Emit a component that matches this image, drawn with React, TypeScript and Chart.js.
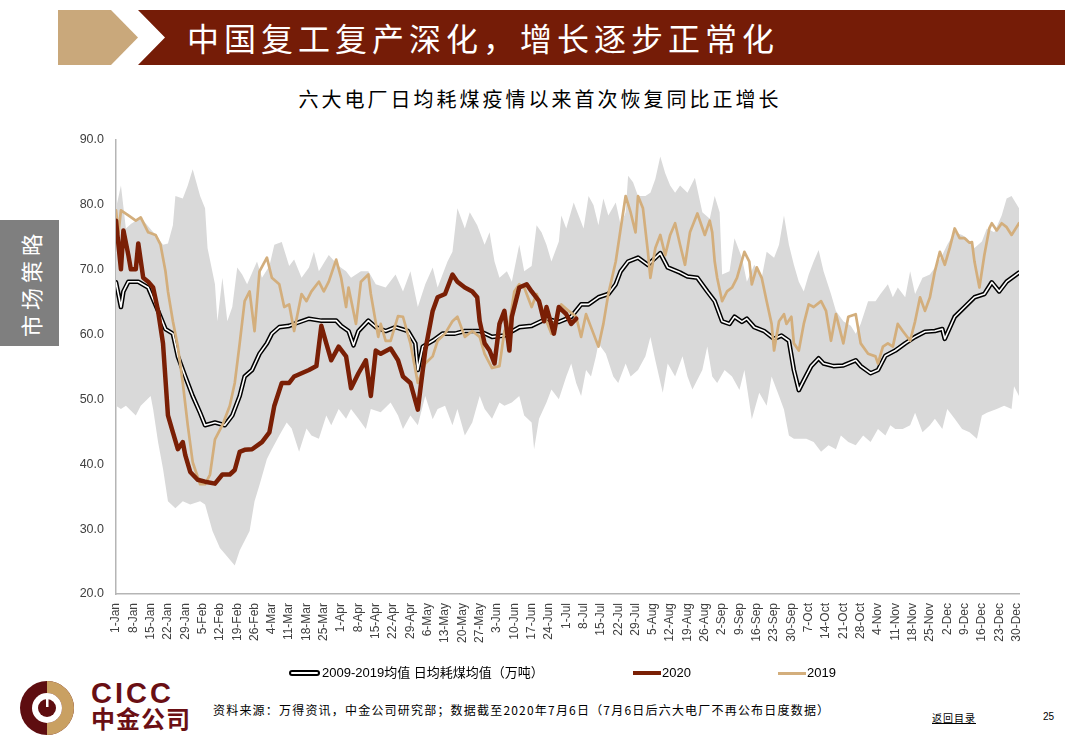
import React, { useEffect, useRef } from "react";
import { Chart, registerables } from "chart.js";

Chart.register(...registerables);

// ---- x axis (day of year, leap year 2020) ----
const TICK_LABELS = [
  "1-Jan", "8-Jan", "15-Jan", "22-Jan", "29-Jan", "5-Feb", "12-Feb", "19-Feb", "26-Feb",
  "4-Mar", "11-Mar", "18-Mar", "25-Mar", "1-Apr", "8-Apr", "15-Apr", "22-Apr", "29-Apr",
  "6-May", "13-May", "20-May", "27-May", "3-Jun", "10-Jun", "17-Jun", "24-Jun", "1-Jul",
  "8-Jul", "15-Jul", "22-Jul", "29-Jul", "5-Aug", "12-Aug", "19-Aug", "26-Aug", "2-Sep",
  "9-Sep", "16-Sep", "23-Sep", "30-Sep", "7-Oct", "14-Oct", "21-Oct", "28-Oct", "4-Nov",
  "11-Nov", "18-Nov", "25-Nov", "2-Dec", "9-Dec", "16-Dec", "23-Dec", "30-Dec",
];
const Y_MIN = 20;
const Y_MAX = 90;

// ---- 2009-2019 range (upper edge) ----
const MAX_DAYS = [0, 2, 4, 6, 10, 16, 19, 21, 23, 24, 27, 29, 31, 34, 36, 37, 40, 41, 43, 45, 47, 49, 51, 53, 57, 59, 62, 64, 67, 70, 72, 75, 78, 80, 82, 86, 90, 93, 95, 99, 102, 105, 109, 113, 116, 119, 122, 125, 128, 130, 134, 136, 138, 141, 143, 146, 149, 151, 153, 155, 158, 160, 163, 165, 168, 170, 172, 174, 176, 179, 180, 182, 185, 187, 189, 191, 193, 195, 197, 199, 202, 204, 206, 207, 209, 211, 214, 216, 218, 220, 222, 224, 226, 228, 231, 234, 237, 240, 242, 244, 245, 248, 250, 253, 255, 258, 261, 263, 266, 268, 270, 272, 274, 276, 278, 280, 282, 284, 286, 289, 291, 294, 297, 299, 301, 304, 307, 309, 312, 314, 316, 319, 321, 323, 326, 329, 331, 334, 336, 339, 342, 344, 347, 350, 352, 355, 358, 360, 362, 365];
const MAX_VALS = [79.4, 82.9, 76.3, 77.0, 78.0, 75.3, 73.8, 74.0, 76.8, 81.3, 80.9, 82.9, 85.4, 81.3, 79.4, 73.3, 67.7, 62.0, 68.7, 62.0, 64.2, 70.3, 69.2, 67.7, 71.2, 68.7, 70.5, 73.8, 74.2, 70.5, 71.5, 68.7, 70.3, 72.7, 69.7, 72.2, 70.5, 69.7, 68.7, 69.7, 69.7, 67.7, 67.2, 69.2, 66.6, 69.7, 64.2, 67.7, 70.3, 67.2, 71.2, 72.7, 79.4, 76.3, 78.8, 76.8, 73.8, 75.7, 71.2, 68.7, 69.7, 68.1, 73.8, 69.7, 70.5, 76.8, 75.7, 73.8, 71.2, 74.3, 78.3, 76.3, 80.3, 78.3, 76.3, 81.3, 79.9, 76.8, 80.9, 78.3, 80.3, 76.8, 78.8, 84.4, 83.4, 81.3, 81.3, 81.8, 83.9, 87.4, 84.8, 82.9, 81.8, 82.9, 81.8, 84.1, 78.8, 77.8, 81.3, 78.8, 69.2, 69.7, 74.8, 71.8, 68.1, 70.7, 68.7, 72.7, 71.8, 73.8, 78.3, 73.8, 70.7, 68.1, 66.6, 69.2, 71.2, 73.0, 69.7, 66.2, 63.6, 62.0, 61.3, 60.1, 61.6, 65.1, 65.1, 66.2, 67.7, 65.7, 67.2, 65.7, 69.7, 66.2, 68.7, 69.2, 70.3, 72.2, 73.8, 75.7, 75.3, 74.8, 73.3, 74.3, 76.3, 75.7, 78.3, 80.9, 81.3, 79.4];

// ---- 2009-2019 range (lower edge) ----
const MIN_DAYS = [0, 2, 4, 8, 10, 14, 15, 17, 19, 21, 24, 27, 30, 34, 36, 39, 42, 44, 48, 50, 54, 56, 58, 61, 63, 66, 69, 71, 74, 77, 79, 82, 85, 87, 90, 93, 95, 98, 101, 103, 107, 111, 114, 116, 119, 122, 125, 128, 130, 133, 136, 138, 141, 144, 147, 149, 152, 155, 157, 160, 163, 165, 168, 169, 171, 174, 176, 179, 182, 184, 186, 188, 190, 192, 194, 195, 198, 201, 203, 206, 208, 211, 214, 216, 218, 221, 223, 226, 229, 231, 233, 237, 239, 241, 243, 246, 249, 252, 254, 257, 260, 263, 265, 268, 270, 272, 274, 279, 282, 285, 288, 291, 293, 296, 299, 302, 305, 308, 311, 313, 315, 318, 321, 323, 326, 329, 331, 334, 336, 339, 342, 345, 348, 350, 352, 356, 359, 362, 363, 365];
const MIN_VALS = [49.0, 48.5, 49.0, 47.5, 49.0, 50.5, 48.5, 43.4, 39.3, 34.3, 33.2, 34.3, 33.8, 34.3, 33.8, 29.7, 27.1, 26.2, 24.4, 26.7, 29.7, 34.3, 36.8, 40.8, 42.3, 44.4, 46.4, 45.5, 41.9, 45.5, 44.4, 43.9, 47.5, 46.0, 48.5, 47.0, 48.5, 47.0, 45.4, 48.5, 48.0, 49.5, 47.5, 45.4, 47.5, 46.0, 50.5, 46.9, 48.5, 49.0, 46.0, 48.5, 44.4, 46.4, 50.5, 48.5, 47.0, 49.5, 49.0, 49.5, 50.5, 47.5, 46.4, 42.3, 47.0, 49.5, 51.5, 50.0, 53.5, 55.5, 52.5, 50.5, 54.5, 53.5, 56.6, 58.6, 57.0, 53.5, 52.5, 55.5, 53.5, 54.5, 56.6, 59.6, 56.0, 51.0, 55.5, 53.5, 56.6, 53.5, 51.5, 54.5, 58.1, 53.5, 52.5, 54.5, 53.5, 51.4, 54.5, 46.9, 51.0, 49.0, 53.5, 50.5, 48.4, 44.4, 43.9, 43.9, 43.4, 41.9, 42.9, 42.3, 44.4, 43.4, 42.9, 44.4, 43.4, 45.4, 44.4, 46.0, 45.4, 45.4, 46.0, 47.9, 44.9, 46.0, 47.0, 45.4, 48.5, 47.0, 45.4, 44.9, 43.9, 47.5, 47.9, 48.5, 49.0, 48.5, 52.0, 50.5];

// ---- 2009-2019 average ----
const AVG_DAYS = [0, 2, 3, 5, 9, 13, 17, 20, 23, 25, 28, 31, 34, 36, 40, 44, 47, 50, 52, 55, 58, 61, 63, 66, 70, 72, 78, 83, 89, 91, 94, 96, 98, 102, 105, 109, 113, 118, 121, 122, 124, 128, 132, 137, 141, 147, 152, 157, 163, 168, 174, 179, 184, 188, 191, 195, 199, 202, 204, 207, 211, 215, 220, 223, 228, 231, 235, 239, 242, 245, 248, 250, 253, 255, 258, 262, 266, 269, 272, 274, 276, 278, 281, 284, 286, 290, 294, 299, 301, 305, 308, 311, 315, 319, 323, 327, 331, 334, 335, 339, 343, 347, 351, 354, 357, 360, 365];
const AVG_VALS = [68.0, 64.2, 66.6, 68.1, 68.1, 67.2, 63.6, 60.8, 60.1, 56.6, 53.5, 50.5, 47.9, 46.0, 46.4, 46.0, 47.5, 50.5, 53.5, 54.5, 57.0, 58.6, 60.1, 61.1, 61.3, 61.6, 62.4, 62.1, 62.1, 61.3, 60.5, 58.3, 60.5, 62.1, 61.1, 60.5, 61.1, 60.5, 58.6, 54.5, 58.1, 59.0, 60.1, 60.1, 60.5, 60.5, 59.6, 59.8, 61.1, 61.3, 62.4, 61.9, 62.7, 64.6, 64.6, 65.7, 66.2, 67.7, 69.7, 71.2, 71.8, 70.7, 72.5, 70.3, 69.5, 68.9, 68.7, 66.6, 65.1, 62.0, 61.6, 62.7, 61.9, 62.4, 61.1, 60.5, 59.3, 59.8, 59.0, 54.5, 51.4, 52.9, 55.1, 56.3, 55.5, 55.1, 55.2, 56.0, 55.1, 54.0, 54.5, 56.7, 57.5, 58.6, 59.6, 60.4, 60.5, 60.8, 59.3, 62.7, 64.2, 65.7, 66.2, 68.0, 66.6, 68.1, 69.5];

// ---- 2019 ----
const Y2019_DAYS = [0, 1, 2, 5, 8, 10, 13, 16, 18, 20, 21, 23, 25, 27, 29, 31, 34, 36, 38, 40, 43, 46, 48, 50, 52, 54, 56, 58, 61, 63, 66, 68, 70, 72, 75, 77, 79, 82, 84, 86, 89, 91, 93, 94, 97, 99, 102, 103, 106, 107, 109, 111, 114, 116, 119, 122, 125, 128, 130, 133, 136, 138, 141, 144, 147, 149, 152, 155, 157, 159, 161, 163, 165, 168, 170, 172, 174, 176, 178, 180, 183, 186, 188, 190, 192, 195, 197, 199, 202, 204, 206, 208, 210, 211, 213, 215, 216, 218, 220, 222, 224, 226, 228, 230, 232, 235, 238, 240, 241, 242, 243, 245, 247, 249, 251, 254, 256, 257, 259, 261, 263, 265, 266, 268, 270, 271, 273, 274, 276, 278, 280, 282, 285, 287, 289, 291, 294, 296, 299, 301, 304, 307, 308, 310, 312, 314, 316, 318, 321, 323, 325, 327, 329, 331, 333, 335, 337, 339, 341, 343, 345, 346, 347, 349, 351, 353, 354, 356, 358, 360, 362, 365];
const Y2019_VALS = [79.1, 75.6, 79.1, 78.3, 77.5, 78.0, 75.7, 75.3, 73.8, 69.7, 66.6, 62.0, 58.1, 52.5, 46.0, 40.3, 36.9, 36.9, 38.4, 43.8, 46.0, 49.0, 52.5, 58.6, 65.1, 66.6, 60.5, 69.7, 71.8, 68.7, 67.7, 64.2, 64.6, 60.5, 66.2, 65.1, 66.6, 68.1, 66.6, 68.1, 71.5, 68.7, 64.2, 67.2, 61.6, 68.1, 69.2, 66.2, 59.6, 61.6, 59.0, 59.0, 62.8, 62.7, 58.6, 52.5, 55.5, 56.6, 59.0, 60.1, 62.0, 62.7, 59.6, 60.5, 59.6, 57.0, 54.8, 55.1, 60.5, 61.6, 66.6, 67.7, 67.2, 64.2, 66.2, 64.2, 62.0, 60.1, 62.7, 64.6, 63.6, 62.7, 59.6, 63.1, 61.1, 58.1, 61.6, 66.2, 71.2, 76.3, 81.3, 78.8, 75.7, 81.3, 79.4, 72.7, 68.7, 73.3, 75.3, 72.2, 75.3, 77.1, 73.8, 70.7, 75.7, 78.6, 75.3, 77.5, 75.7, 71.2, 68.7, 65.1, 66.6, 67.2, 68.7, 72.7, 71.2, 67.7, 70.3, 68.7, 65.1, 61.6, 57.5, 62.0, 63.1, 61.6, 62.7, 58.6, 57.5, 61.6, 64.6, 64.2, 65.1, 63.6, 59.0, 63.1, 58.6, 62.7, 63.1, 58.6, 57.0, 56.6, 55.5, 58.1, 58.6, 58.1, 61.6, 60.5, 59.0, 62.0, 65.7, 63.6, 65.7, 69.7, 72.7, 70.7, 73.3, 76.3, 74.8, 74.8, 74.1, 74.2, 71.2, 67.2, 72.2, 76.3, 77.1, 76.0, 77.1, 76.5, 75.3, 77.1];

// ---- 2020 ----
const Y2020_DAYS = [0, 2, 3, 5, 6, 8, 9, 11, 13, 15, 17, 19, 21, 23, 25, 27, 28, 30, 33, 36, 40, 43, 46, 48, 50, 52, 55, 59, 62, 64, 67, 70, 72, 75, 78, 81, 83, 85, 87, 90, 93, 95, 98, 101, 103, 105, 107, 111, 114, 116, 119, 122, 125, 128, 130, 133, 136, 138, 141, 144, 146, 147, 149, 151, 153, 155, 157, 159, 160, 163, 166, 168, 171, 173, 174, 177, 179, 182, 184, 186];
const Y2020_VALS = [77.5, 70.0, 76.0, 72.2, 70.0, 70.0, 74.0, 68.7, 68.1, 67.2, 63.6, 58.6, 47.5, 44.9, 42.3, 43.4, 41.4, 38.8, 37.6, 37.3, 37.0, 38.4, 38.4, 39.1, 41.9, 42.2, 42.3, 43.4, 44.9, 49.0, 52.5, 52.5, 53.5, 54.0, 54.5, 55.1, 61.3, 58.6, 56.0, 58.1, 56.6, 51.7, 54.0, 56.0, 50.5, 57.5, 57.0, 57.8, 56.0, 53.5, 52.5, 48.4, 57.5, 63.6, 65.7, 66.2, 69.2, 68.1, 67.2, 66.6, 65.7, 62.0, 58.6, 57.5, 55.5, 61.6, 63.6, 57.5, 62.7, 67.2, 67.7, 66.6, 65.1, 62.0, 64.2, 60.1, 64.2, 63.1, 61.6, 62.4];

const COLOR_2020 = "#7a1f05";
const COLOR_2019 = "#d3ae7c";
const COLOR_BAND = "#d9d9d9";

function toPoints(days: number[], vals: number[]) {
  return days.map((d, i) => ({ x: d, y: vals[i] }));
}

function ChartCanvas() {
  const ref = useRef<HTMLCanvasElement | null>(null);
  useEffect(() => {
    if (!ref.current) return;
    const line = {
      pointRadius: 0,
      pointHoverRadius: 0,
      tension: 0,
      borderJoinStyle: "round" as const,
      borderCapStyle: "round" as const,
    };
    const chart = new Chart(ref.current, {
      type: "line",
      data: {
        datasets: [
          {
            label: "max",
            data: toPoints(MAX_DAYS, MAX_VALS),
            borderColor: "rgba(0,0,0,0)",
            borderWidth: 0,
            backgroundColor: COLOR_BAND,
            fill: "+1",
            order: 20,
            ...line,
          },
          {
            label: "min",
            data: toPoints(MIN_DAYS, MIN_VALS),
            borderColor: "rgba(0,0,0,0)",
            borderWidth: 0,
            fill: false,
            order: 21,
            ...line,
          },
          {
            label: "avg-outer",
            data: toPoints(AVG_DAYS, AVG_VALS),
            borderColor: "#000000",
            borderWidth: 4.6,
            fill: false,
            order: 6,
            ...line,
          },
          {
            label: "avg-inner",
            data: toPoints(AVG_DAYS, AVG_VALS),
            borderColor: "#ffffff",
            borderWidth: 1.6,
            fill: false,
            order: 5,
            ...line,
          },
          {
            label: "2019",
            data: toPoints(Y2019_DAYS, Y2019_VALS),
            borderColor: COLOR_2019,
            borderWidth: 2.7,
            fill: false,
            order: 3,
            ...line,
          },
          {
            label: "2020",
            data: toPoints(Y2020_DAYS, Y2020_VALS),
            borderColor: COLOR_2020,
            borderWidth: 4.5,
            fill: false,
            order: 1,
            ...line,
          },
        ],
      },
      options: {
        animation: false,
        responsive: true,
        maintainAspectRatio: false,
        layout: { padding: { left: 0, top: 13, right: 21, bottom: 0 } },
        plugins: {
          legend: { display: false },
          tooltip: { enabled: false },
        },
        scales: {
          x: {
            type: "linear",
            min: 0,
            max: 365,
            grid: { display: false, drawTicks: false },
            border: { display: true, color: "#b5b5b5", width: 1.5 },
            afterBuildTicks: (scale: any) => {
              scale.ticks = TICK_LABELS.map((_, i) => ({ value: i * 7 }));
            },
            afterFit: (scale: any) => {
              scale.height = 76;
            },
            ticks: {
              autoSkip: false,
              minRotation: 90,
              maxRotation: 90,
              padding: 9,
              color: "#404040",
              font: { family: "'Liberation Sans Narrow', 'Liberation Sans', Arial, sans-serif", size: 12 },
              callback: (_v: any, i: number) => TICK_LABELS[i],
            },
          },
          y: {
            min: Y_MIN,
            max: Y_MAX,
            grid: { display: false, drawTicks: false },
            border: { display: true, color: "#b5b5b5", width: 1.5 },
            afterFit: (scale: any) => {
              scale.width = 56;
            },
            ticks: {
              stepSize: 10,
              padding: 12,
              color: "#404040",
              font: { family: "'Liberation Sans', Arial, sans-serif", size: 12.5 },
              callback: (v: any) => Number(v).toFixed(1),
            },
          },
        },
      } as any,
    });
    return () => chart.destroy();
  }, []);
  return <canvas ref={ref} />;
}

const CJK = "'Noto Sans CJK SC', 'Liberation Sans', sans-serif";
const LATIN_CJK = "'Liberation Sans', 'Noto Sans CJK SC', sans-serif";

export default function App() {
  return (
    <div
      style={{
        position: "absolute",
        left: 0,
        top: 0,
        width: 1080,
        height: 754,
        background: "#ffffff",
        overflow: "hidden",
      }}
    >
      {/* tan arrow */}
      <div
        style={{
          position: "absolute",
          left: 58,
          top: 10,
          width: 80,
          height: 55,
          background: "#c9a87b",
          clipPath: "polygon(0 0, 53px 0, 80px 50%, 53px 100%, 0 100%)",
        }}
      />
      {/* brown banner */}
      <div
        style={{
          position: "absolute",
          left: 138,
          top: 10,
          width: 927,
          height: 55,
          background: "#751c07",
          clipPath: "polygon(0 0, 100% 0, 100% 100%, 0 100%, 27px 50%)",
        }}
      >
        <div
          style={{
            position: "absolute",
            left: 49,
            top: 0,
            height: 55,
            lineHeight: "55px",
            color: "#ffffff",
            fontFamily: CJK,
            fontSize: 32,
            letterSpacing: 5,
            whiteSpace: "nowrap",
          }}
        >
          中国复工复产深化，增长逐步正常化
        </div>
      </div>

      {/* subtitle */}
      <div
        style={{
          position: "absolute",
          left: 0,
          top: 86,
          width: 1080,
          textAlign: "center",
          fontFamily: CJK,
          fontSize: 20,
          letterSpacing: 3,
          color: "#000000",
          lineHeight: "26px",
          whiteSpace: "nowrap",
        }}
      >
        六大电厂日均耗煤疫情以来首次恢复同比正增长
      </div>

      {/* side tab */}
      <div
        style={{
          position: "absolute",
          left: 0,
          top: 220,
          width: 59,
          height: 126,
          background: "#7f7f7f",
        }}
      >
        <div
          style={{
            position: "absolute",
            left: "50%",
            top: "50%",
            transform: "translate(-50%, -50%) rotate(-90deg)",
            color: "#ffffff",
            fontFamily: CJK,
            fontSize: 22,
            letterSpacing: 5,
            whiteSpace: "nowrap",
            lineHeight: "26px",
          }}
        >
          市场策略
        </div>
      </div>

      {/* chart */}
      <div style={{ position: "absolute", left: 60, top: 120, width: 980, height: 550 }}>
        <ChartCanvas />
      </div>

      {/* legend */}
      <div
        style={{
          position: "absolute",
          left: 289,
          top: 670,
          width: 31,
          height: 6,
          boxSizing: "border-box",
          border: "2px solid #000000",
          borderRadius: 3,
          background: "#ffffff",
        }}
      />
      <div
        style={{
          position: "absolute",
          left: 322,
          top: 665,
          fontFamily: LATIN_CJK,
          fontSize: 13,
          lineHeight: "16px",
          color: "#000000",
          whiteSpace: "nowrap",
        }}
      >
        2009-2019均值 日均耗煤均值（万吨）
      </div>
      <div style={{ position: "absolute", left: 633, top: 671, width: 28, height: 4, background: COLOR_2020 }} />
      <div
        style={{
          position: "absolute",
          left: 662,
          top: 665,
          fontFamily: LATIN_CJK,
          fontSize: 13,
          lineHeight: "16px",
          color: "#000000",
        }}
      >
        2020
      </div>
      <div style={{ position: "absolute", left: 778, top: 672, width: 28, height: 3, background: COLOR_2019 }} />
      <div
        style={{
          position: "absolute",
          left: 807,
          top: 665,
          fontFamily: LATIN_CJK,
          fontSize: 13,
          lineHeight: "16px",
          color: "#000000",
        }}
      >
        2019
      </div>

      {/* CICC logo */}
      <svg
        style={{ position: "absolute", left: 18, top: 679 }}
        width={60}
        height={58}
        viewBox="0 0 60 58"
      >
        <circle cx={29} cy={29} r={27} fill="#5e0d10" />
        <path d="M29 2 A27 27 0 0 1 29 56 L29 44 A15 15 0 0 0 29 14 Z" fill="#c9a062" />
        <circle cx={29} cy={29} r={15} fill="#ffffff" />
        <circle cx={29} cy={29} r={9} fill="#5e0d10" />
        <rect x={28} y={19} width={2.5} height={9} fill="#ffffff" />
      </svg>
      <div
        style={{
          position: "absolute",
          left: 91,
          top: 679,
          fontFamily: "'Liberation Sans', Arial, sans-serif",
          fontWeight: 700,
          fontSize: 29,
          letterSpacing: 3,
          lineHeight: "28px",
          color: "#6a0f14",
        }}
      >
        CICC
      </div>
      <div
        style={{
          position: "absolute",
          left: 91,
          top: 704,
          fontFamily: CJK,
          fontWeight: 700,
          fontSize: 24,
          letterSpacing: 1,
          lineHeight: "28px",
          color: "#6a0f14",
          whiteSpace: "nowrap",
        }}
      >
        中金公司
      </div>

      {/* source */}
      <div
        style={{
          position: "absolute",
          left: 213,
          top: 701,
          fontFamily: CJK,
          fontSize: 12,
          letterSpacing: 1.2,
          lineHeight: "18px",
          color: "#000000",
          whiteSpace: "nowrap",
        }}
      >
        资料来源：万得资讯，中金公司研究部；数据截至2020年7月6日（7月6日后六大电厂不再公布日度数据）
      </div>
      <div
        style={{
          position: "absolute",
          left: 932,
          top: 710,
          fontFamily: CJK,
          fontSize: 10,
          letterSpacing: 1,
          lineHeight: "16px",
          color: "#000000",
          textDecoration: "underline",
          whiteSpace: "nowrap",
        }}
      >
        返回目录
      </div>
      <div
        style={{
          position: "absolute",
          left: 1043,
          top: 709,
          fontFamily: "'Liberation Sans', Arial, sans-serif",
          fontSize: 10,
          lineHeight: "16px",
          color: "#000000",
        }}
      >
        25
      </div>
    </div>
  );
}
